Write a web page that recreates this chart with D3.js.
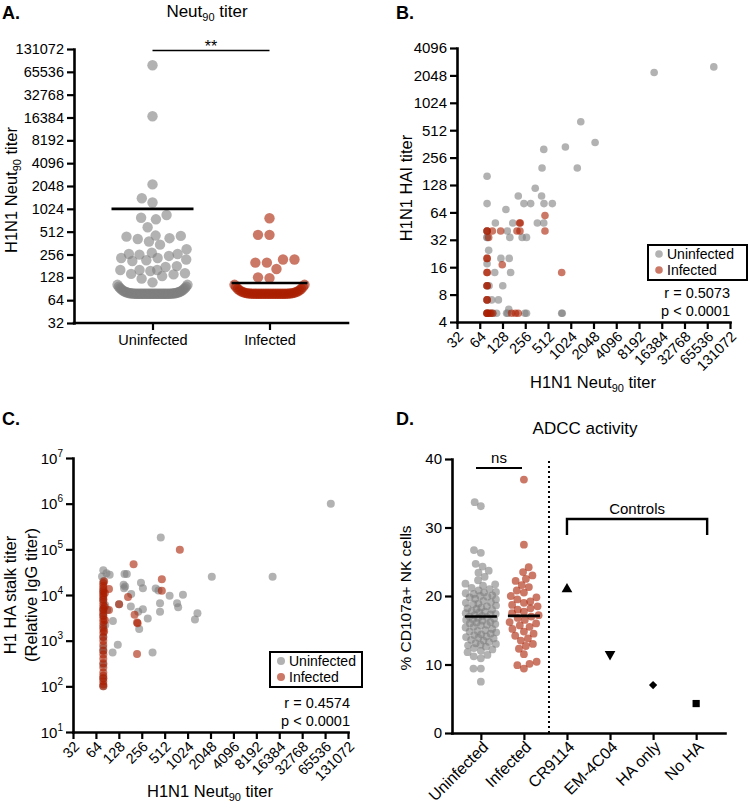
<!DOCTYPE html>
<html><head><meta charset="utf-8">
<script src="https://cdn.jsdelivr.net/npm/d3@7"></script>
<style>
body{margin:0;background:#fff}
svg text{font-family:"Liberation Sans",Arial,sans-serif;fill:#000}
</style></head><body>
<svg id="chart" width="750" height="810"></svg>
<script>
// ---------------- DATA ----------------
const titerTicks = [32,64,128,256,512,1024,2048,4096,8192,16384,32768,65536,131072];
const haiTicks = [4,8,16,32,64,128,256,512,1024,2048,4096];
const stalkTicks = [1e1,1e2,1e3,1e4,1e5,1e6,1e7];
const adccTicks = [0,10,20,30,40];
const groups = ['Uninfected','Infected'];

// Panel A: Neut90 titers (points above the detection floor)
const neutUninf = [80000,17000,2150,1410,1240,850,780,745,585,450,420,380,410,440,455,345,300,
  260,255,245,260,270,230,215,220,230,180,160,160,160,175,210,145,140,123,110,133,142,155];
const neutInf = [770,465,465,220,200,200,220,165,128,125];
const floorTiter = 80;            // detection floor
const floorCounts = [56, 42];     // number of subjects at the floor (Uninfected, Infected)
const neutMeans = [1024, 108];

// Panel B: [Neut90, HAI]
const hiUninf = [[13000,2200],[80000,2540],[1390,635],[2150,375],[870,335],[450,315],[1250,197],[427,197],
  [80,160],[347,118],[207,97],[421,97],[80,80],[246,80],[302,80],[453,80],[584,80],[142,69],[103,49],
  [175,49],[370,49],[450,49],[80,34],[148,40],[160,34],[233,34],[266,34],[84,24.5],[122,20],[157,20],
  [101,14],[164,14],[129,10],[92,7],[113,7],[80,5],[88,5],[107,5],[145,5],[155,5.5],[253,5],[266,5],
  [777,5],[790,5],[80,40],[80,17.5],[80,10],[85,10],[80,7],[150,5],[95,5],[80,34]];
const hiInf = [[467,59],[467,40],[220,49],[215,49],[199,40],[218,40],[121,40],[94,40],[84,34],[80,40],[80,40],
  [80,20],[80,20],[80,14],[80,14],[80,10],[80,10],[80,7],[80,7],[127,17],[777,14],[80,5],[80,5],[80,5],
  [85,5],[90,5],[95,5],[169,5],[190,5],[207,5]];

// Panel C: [Neut90, stalk titer]
const stalkUninf = [[77900,1e6],[13400,25000],[2130,25000],[455,182000],[1380,4000],[1280,2900],[890,10100],
  [745,6600],[770,5400],[595,9600],[445,6600],[445,4300],[390,13800],[425,12500],[355,550],[307,3050],
  [265,4900],[230,4300],[237,1800],[250,18600],[265,14000],[186,10500],[184,5600],[152,29000],[163,29000],
  [148,16700],[155,15400],[150,14000],[124,810],[106,550],[107,2700],[90,4700],[97,27700],[77,25500],
  [80,35000],[80,20000],[80,12000],[80,8000],[80,5000],[80,3500],[80,2000],[80,1200],[80,700],[80,600],
  [80,300],[80,150],[80,100],[129,6300],[88,30000],[85,2200],[85,6000]];
const stalkInf = [[200,47000],[810,98000],[470,22000],[470,12400],[169,9000],[206,3700],[222,2500],
  [226,2400],[129,6300],[95,4700],[95,13500],[222,510],[80,100],[80,110],[80,130],[80,150],[80,170],
  [80,200],[80,260],[80,320],[80,400],[80,500],[80,600],[80,800],[80,1000],[80,1200],[80,1500],
  [80,1800],[80,2200],[80,2600],[80,3000],[80,3500],[80,4000],[80,4500],[80,5000],[80,6000],[80,7000],
  [80,8000],[80,9000],[80,10000],[80,11000],[80,12500],[80,14000],[80,16000],[80,18000],[82,20000],
  [84,11000],[83,5500],[84,2800],[82,1600]];

// Panel D: ADCC (% CD107a+ NK cells)
const adccCats = ['Uninfected','Infected','CR9114','EM-4C04','HA only','No HA'];
const adccUninf = [33.1,33.7,26.7,26.3,24.7,24.3,23.7,23.4,22.8,22.3,21.8,21.7,21.5,21.2,21.0,20.8,20.6,
  20.5,20.3,20.1,20.0,19.8,19.6,19.5,19.3,19.1,19.0,18.8,18.6,18.5,18.3,18.1,18.0,17.8,17.7,17.5,17.4,
  17.2,17.1,17.0,16.9,16.8,16.6,16.5,16.4,16.2,16.1,16.0,15.8,15.7,15.5,15.4,15.2,15.0,14.9,14.7,14.5,
  14.4,14.3,14.1,14.0,13.8,13.6,13.5,13.3,13.1,13.0,12.8,12.6,12.4,12.2,12.0,11.8,11.4,11.2,10.9,9.4,
  9.4,7.5,20.4,19.9,18.9,17.6,16.7,15.9,14.8,13.9,12.9,18.2,17.3];
const adccInf = [37.0,27.5,24.2,23.5,23.0,22.5,22.2,21.6,21.3,20.8,20.5,20.0,19.8,19.5,19.2,19.0,18.7,
  18.5,18.2,18.0,17.7,17.5,17.2,17.0,16.8,16.5,16.2,16.0,15.7,15.5,15.2,14.8,14.5,14.2,13.8,13.5,13.0,
  12.7,12.3,11.5,10.4,10.1,9.9,9.4];
const adccMeans = [17.0, 17.1];
const controlNames = ['CR9114','EM-4C04','HA only','No HA'];
const controlValues = [21.0, 11.5, 7.0, 4.3];

// ---------------- STYLE ----------------
const FONT = '"Liberation Sans", Arial, sans-serif';
const GRAY = '#7f7f7f', RED = '#aa1e00', OP = 0.6;
const TICK = 14.5, LAB = 16.5, TITLE = 17;
const svg = d3.select('#chart');

function styleAxis(sel, fs){
  sel.attr('font-family', FONT).attr('font-size', fs || TICK);
  sel.selectAll('.tick text').attr('font-size', fs || TICK).attr('fill','#000');
  sel.select('.domain').attr('stroke','#000').attr('stroke-width',2.6).attr('stroke-linecap','square');
  sel.selectAll('.tick line').attr('stroke','#000').attr('stroke-width',2.2);
}
function rotateLabels(sel, dx, dy){
  sel.selectAll('.tick text').attr('x',0).attr('y',0).attr('dy','0.35em')
    .attr('text-anchor','end').attr('transform',`translate(${dx},${dy}) rotate(-45)`);
}
function neutLabel(g, x, y, rot){
  const t = g.append('text').attr('font-size',LAB).attr('text-anchor','middle')
    .attr('transform', rot ? `translate(${x},${y}) rotate(-90)` : `translate(${x},${y})`);
  t.append('tspan').text('H1N1 Neut');
  t.append('tspan').attr('font-size',11).attr('dy',4).text('90');
  t.append('tspan').attr('dy',-4).text(' titer');
}
function swarm(ys, D, maxHW){
  const idx = d3.range(ys.length).sort((a,b)=>ys[b]-ys[a]);
  const placed = [], out = new Array(ys.length);
  for (const i of idx){
    const yi = ys[i]; let best = null;
    for (let d = D; d >= D*0.25 && best === null; d *= 0.88){
      const near = placed.filter(p=>Math.abs(p.y-yi) < d);
      const cands = [0];
      near.forEach(p=>{const w = Math.sqrt(d*d-(p.y-yi)**2); cands.push(p.x-w, p.x+w);});
      const ok = cands.filter(c=>Math.abs(c) <= maxHW+1e-9 &&
        near.every(p=>Math.abs(c-p.x) >= Math.sqrt(d*d-(p.y-yi)**2)-1e-6));
      if (ok.length){ ok.sort((a,b)=>Math.abs(a)-Math.abs(b) || a-b); best = ok[0]; }
    }
    if (best === null) best = 0;
    placed.push({x:best, y:yi}); out[i] = best;
  }
  return out;
}
function legend(g, x0, y0, w, h, rowY, textX, dotX, r){
  g.append('rect').attr('x',x0).attr('y',y0).attr('width',w).attr('height',h)
    .attr('fill','#fff').attr('stroke','#000').attr('stroke-width',2);
  [['Uninfected',GRAY],['Infected',RED]].forEach((d,i)=>{
    g.append('circle').attr('cx',dotX).attr('cy',rowY[i]).attr('r',r).attr('fill',d[1]).attr('fill-opacity',OP);
    g.append('text').attr('x',textX).attr('y',rowY[i]+5).attr('font-size',14).text(d[0]);
  });
}
function panelLabel(x,y,t){
  svg.append('text').attr('x',x).attr('y',y).attr('font-size',18).attr('font-weight','bold').text(t);
}

// ---------------- PANEL A ----------------
(function(){
  const g = svg.append('g');
  const y = d3.scaleLog().base(2).domain([32,131072]).range([323,49]);
  const x = d3.scalePoint().domain(groups).range([74,348]).padding(0.671);
  const ya = g.append('g').attr('transform','translate(74,0)')
    .call(d3.axisLeft(y).tickValues(titerTicks).tickFormat(d3.format('d')).tickSize(7).tickPadding(3).tickSizeOuter(0));
  styleAxis(ya);
  const xa = g.append('g').attr('transform','translate(0,323)')
    .call(d3.axisBottom(x).tickSize(7).tickPadding(5).tickSizeOuter(0));
  styleAxis(xa);
  xa.select('.domain').attr('d','M74,0H348');
  const r = 5.2;
  groups.forEach((gn,gi)=>{
    const vals = gi === 0 ? neutUninf : neutInf;
    const cx = x(gn), col = gi === 0 ? GRAY : RED;
    const n = floorCounts[gi], hw = 35, lift = 9;
    const band = d3.range(n).map(i=>{const t = -1 + 2*i/(n-1);
      return {x: cx + t*hw, y: y(floorTiter) + 1 - lift*Math.pow(Math.abs(t),6)};});
    g.append('g').selectAll('circle').data(band).join('circle')
      .attr('cx',d=>d.x).attr('cy',d=>d.y).attr('r',r).attr('fill',col).attr('fill-opacity',OP);
    const ys = vals.map(v=>y(v));
    const offs = swarm(ys, 11.5, 35);
    g.append('g').selectAll('circle').data(vals).join('circle')
      .attr('cx',(d,i)=>cx+offs[i]).attr('cy',(d,i)=>ys[i]).attr('r',r).attr('fill',col).attr('fill-opacity',OP);
    const hwm = gi === 0 ? 41 : 38;
    g.append('line').attr('x1',cx-hwm).attr('x2',cx+hwm).attr('y1',y(neutMeans[gi])).attr('y2',y(neutMeans[gi]))
      .attr('stroke','#000').attr('stroke-width',2.6);
  });
  g.append('line').attr('x1',x(groups[0])).attr('x2',x(groups[1])).attr('y1',y(131072)+1.5).attr('y2',y(131072)+1.5)
    .attr('stroke','#000').attr('stroke-width',1.6);
  g.append('text').attr('x',(x(groups[0])+x(groups[1]))/2).attr('y',52).attr('text-anchor','middle').attr('font-size',16).text('**');
  const t = g.append('text').attr('x',207).attr('y',17).attr('text-anchor','middle').attr('font-size',TITLE);
  t.append('tspan').text('Neut'); t.append('tspan').attr('font-size',11).attr('dy',4).text('90');
  t.append('tspan').attr('dy',-4).text(' titer');
  neutLabel(g, 17, 190, true);
  panelLabel(2, 19, 'A.');
})();

// ---------------- PANEL B ----------------
(function(){
  const g = svg.append('g');
  const x = d3.scaleLog().base(2).domain([32,131072]).range([457,730]);
  const y = d3.scaleLog().base(2).domain([4,4096]).range([322,48]);
  const ya = g.append('g').attr('transform','translate(457,0)')
    .call(d3.axisLeft(y).tickValues(haiTicks).tickFormat(d3.format('d')).tickSize(7).tickPadding(3).tickSizeOuter(0));
  styleAxis(ya, 15);
  const xa = g.append('g').attr('transform','translate(0,322)')
    .call(d3.axisBottom(x).tickValues(titerTicks).tickFormat(d3.format('d')).tickSize(7).tickSizeOuter(0));
  styleAxis(xa);
  rotateLabels(xa, 3, 12);
  const r = 3.8;
  [[hiUninf,GRAY],[hiInf,RED]].forEach(([data,col])=>{
    g.append('g').selectAll('circle').data(data).join('circle')
      .attr('cx',d=>x(d[0])).attr('cy',d=>y(d[1])).attr('r',r).attr('fill',col).attr('fill-opacity',OP);
  });
  legend(g, 648, 245, 99, 35, [254,270], 667, 659, 3.8);
  g.append('text').attr('x',730).attr('y',298).attr('text-anchor','end').attr('font-size',TICK).text('r = 0.5073');
  g.append('text').attr('x',730).attr('y',316).attr('text-anchor','end').attr('font-size',TICK).text('p < 0.0001');
  g.append('text').attr('font-size',LAB).attr('text-anchor','middle')
    .attr('transform','translate(412,188) rotate(-90)').text('H1N1 HAI titer');
  neutLabel(g, 593, 388, false);
  panelLabel(396, 19, 'B.');
})();

// ---------------- PANEL C ----------------
(function(){
  const g = svg.append('g');
  const x = d3.scaleLog().base(2).domain([32,131072]).range([73,348]);
  const y = d3.scaleLog().domain([10,1e7]).range([732,458]);
  const ya = g.append('g').attr('transform','translate(73,0)')
    .call(d3.axisLeft(y).tickValues(stalkTicks).tickFormat('').tickSize(7).tickSizeOuter(0));
  styleAxis(ya);
  ya.selectAll('.tick').each(function(d){
    const t = d3.select(this).append('text').attr('x',-10).attr('dy','0.35em').attr('text-anchor','end')
      .attr('fill','#000').attr('font-size',15);
    t.append('tspan').text('10');
    t.append('tspan').attr('font-size',10).attr('dy',-7).text(Math.round(Math.log10(d)));
  });
  const xa = g.append('g').attr('transform','translate(0,732)')
    .call(d3.axisBottom(x).tickValues(titerTicks).tickFormat(d3.format('d')).tickSize(7).tickSizeOuter(0));
  styleAxis(xa);
  rotateLabels(xa, 3, 12);
  const r = 4;
  [[stalkUninf,GRAY],[stalkInf,RED]].forEach(([data,col])=>{
    g.append('g').selectAll('circle').data(data).join('circle')
      .attr('cx',d=>x(d[0])).attr('cy',d=>y(d[1])).attr('r',r).attr('fill',col).attr('fill-opacity',OP);
  });
  legend(g, 270, 652, 92, 35, [661,677], 289, 281, 4);
  g.append('text').attr('x',350).attr('y',708).attr('text-anchor','end').attr('font-size',TICK).text('r = 0.4574');
  g.append('text').attr('x',350).attr('y',726).attr('text-anchor','end').attr('font-size',TICK).text('p < 0.0001');
  const yl = g.append('text').attr('font-size',LAB).attr('text-anchor','middle')
    .attr('transform','translate(16,595) rotate(-90)');
  yl.append('tspan').attr('x',0).attr('dy',0).text('H1 HA stalk titer');
  yl.append('tspan').attr('x',0).attr('dy',21).text('(Relative IgG titer)');
  neutLabel(g, 210, 797, false);
  panelLabel(2, 425, 'C.');
})();

// ---------------- PANEL D ----------------
(function(){
  const g = svg.append('g');
  const x = d3.scalePoint().domain(adccCats).range([452,725]).padding(0.67);
  const y = d3.scaleLinear().domain([0,40]).range([733,459]);
  const ya = g.append('g').attr('transform','translate(452,0)')
    .call(d3.axisLeft(y).tickValues(adccTicks).tickSize(7).tickPadding(3).tickSizeOuter(0));
  styleAxis(ya, 15);
  const xa = g.append('g').attr('transform','translate(0,733)')
    .call(d3.axisBottom(x).tickSize(7).tickSizeOuter(0));
  styleAxis(xa, 16);
  rotateLabels(xa, 4, 11);
  const r = 3.9;
  [[adccUninf,GRAY],[adccInf,RED]].forEach(([vals,col],gi)=>{
    const cx = x(adccCats[gi]);
    const ys = vals.map(v=>y(v));
    const offs = swarm(ys, 7.4, 15.5);
    g.append('g').selectAll('circle').data(vals).join('circle')
      .attr('cx',(d,i)=>cx+offs[i]).attr('cy',(d,i)=>ys[i]).attr('r',r).attr('fill',col).attr('fill-opacity',OP);
    g.append('line').attr('x1',cx-16).attr('x2',cx+16).attr('y1',y(adccMeans[gi])).attr('y2',y(adccMeans[gi]))
      .attr('stroke','#000').attr('stroke-width',2.6);
  });
  const shapes = [
    {s:d3.symbolTriangle, size:50, rot:0},
    {s:d3.symbolTriangle, size:50, rot:180},
    {s:d3.symbolSquare, size:34, rot:45},
    {s:d3.symbolSquare, size:52, rot:0}];
  controlNames.forEach((n,i)=>{
    g.append('path').attr('d', d3.symbol().type(shapes[i].s).size(shapes[i].size)())
      .attr('transform',`translate(${x(n)},${y(controlValues[i])}) rotate(${shapes[i].rot})`).attr('fill','#000');
  });
  g.append('line').attr('x1',549).attr('x2',549).attr('y1',y(40)+2).attr('y2',y(0))
    .attr('stroke','#000').attr('stroke-width',2).attr('stroke-dasharray','2,3');
  g.append('line').attr('x1',476).attr('x2',522).attr('y1',468).attr('y2',468).attr('stroke','#000').attr('stroke-width',2.2);
  g.append('text').attr('x',499).attr('y',463).attr('text-anchor','middle').attr('font-size',15).text('ns');
  const bx1 = x('CR9114'), bx2 = x('No HA') + 11;
  g.append('path').attr('d',`M${bx1},535V519H${bx2}V535`).attr('fill','none').attr('stroke','#000').attr('stroke-width',2.4);
  g.append('text').attr('x',(bx1+bx2)/2).attr('y',514).attr('text-anchor','middle').attr('font-size',15).text('Controls');
  g.append('text').attr('x',585).attr('y',434).attr('text-anchor','middle').attr('font-size',TITLE).text('ADCC activity');
  g.append('text').attr('font-size',15.5).attr('text-anchor','middle')
    .attr('transform','translate(411,598) rotate(-90)').text('% CD107a+ NK cells');
  panelLabel(396, 425, 'D.');
})();
</script>
</body></html>
